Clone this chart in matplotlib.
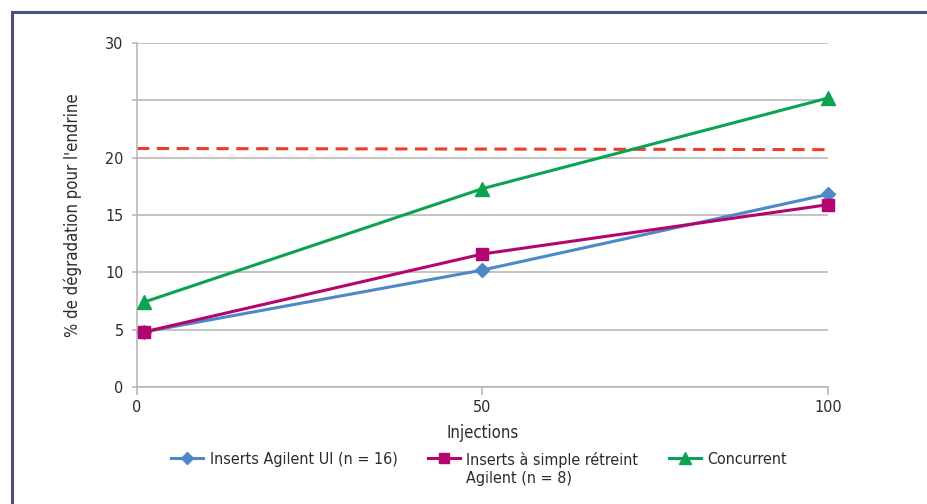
import matplotlib
matplotlib.use("Agg")
import matplotlib.pyplot as plt
from matplotlib.patches import Rectangle

plt.rcParams['font.family'] = ['DejaVu Sans']
plt.rcParams['font.stretch'] = 'condensed'

# Data
injections = [1, 50, 100]
agilent_ui = [4.8, 10.2, 16.8]
agilent_simple = [4.8, 11.6, 15.9]
concurrent = [7.4, 17.3, 25.2]
limit_x = [0, 100]
limit_y = [20.8, 20.7]

yticks = [0, 5, 10, 15, 20, 25, 30]
ytick_labels = ['0', '5', '10', '15', '20', '', '30']
xticks = [0, 50, 100]

labels = ['Inserts Agilent UI (n = 16)',
          'Inserts à simple rétreint\nAgilent (n = 8)',
          'Concurrent']

text_color = '#2b2b2b'
grid_color = '#b3b3b3'
blue = '#4d88c9'
magenta = '#b4046e'
green = '#0aa451'
red = '#f03a2a'

fig = plt.figure(figsize=(9.27, 5.04), dpi=100)
ax = fig.add_axes([137 / 927, 1 - 387 / 504, (828 - 137) / 927, (387 - 43) / 504])

ax.set_xlim(0, 100)
ax.set_ylim(0, 30)
ax.set_yticks(yticks)
ax.set_yticklabels(ytick_labels)
ax.set_xticks(xticks)
ax.yaxis.grid(True, color=grid_color, lw=1.1)
ax.set_axisbelow(True)
for s in ['top', 'right']:
    ax.spines[s].set_visible(False)
for s in ['left', 'bottom']:
    ax.spines[s].set_color(grid_color)
    ax.spines[s].set_linewidth(1.1)
ax.tick_params(axis='y', length=3.6, width=1.1, color=grid_color, pad=6,
               labelsize=11.5, labelcolor=text_color)
ax.tick_params(axis='x', length=6, width=1.1, color=grid_color, pad=3.5,
               labelsize=11.5, labelcolor=text_color)

ax.plot(limit_x, limit_y, color=red, lw=2.2, dashes=(4, 2.5), clip_on=False)
l1, = ax.plot(injections, agilent_ui, color=blue, lw=2.2, marker='D', ms=7,
              clip_on=False, zorder=3)
l2, = ax.plot(injections, agilent_simple, color=magenta, lw=2.2, marker='s', ms=9,
              clip_on=False, zorder=4)
l3, = ax.plot(injections, concurrent, color=green, lw=2.2, marker='^', ms=9.5,
              clip_on=False, zorder=5)

ax.set_xlabel('Injections', fontsize=12, color=text_color, labelpad=6)
ax.set_ylabel("% de dégradation pour l'endrine", fontsize=12, color=text_color,
              labelpad=17)

leg = fig.legend([l1, l2, l3], labels, loc='upper center',
                 bbox_to_anchor=(479 / 927, 1 - 438 / 504), ncol=3, frameon=False,
                 fontsize=11.5, handlelength=2.0, handletextpad=0.4,
                 columnspacing=1.9, markerscale=0.85, labelcolor=text_color)
# align the legend rows on the first line of each label
leg._legend_handle_box.align = 'top'
for col in leg._legend_handle_box.get_children():
    col.align = 'top'
    for item in col.get_children():
        item.align = 'top'

fig.patches.append(Rectangle((12 / 927, -0.1), 1.2, 1.1 - 12 / 504,
                             transform=fig.transFigure, fill=False,
                             edgecolor='#4b4f8c', lw=2.2))

fig.savefig('out.png', dpi=100)
